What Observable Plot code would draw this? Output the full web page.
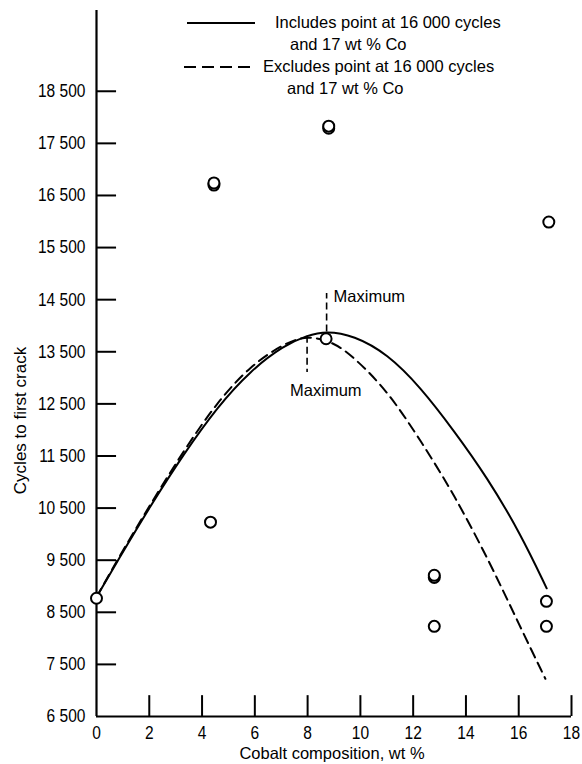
<!DOCTYPE html>
<html><head><meta charset="utf-8">
<script src="https://cdn.jsdelivr.net/npm/d3@7"></script>
<script src="https://cdn.jsdelivr.net/npm/@observablehq/plot@0.6"></script>
<style>
html,body{margin:0;padding:0;background:#fff;}
#wrap{position:relative;width:582px;height:764px;}
#legend{position:absolute;left:0;top:0;}
</style></head><body><div id="wrap"></div>
<script>
// Measured points (cobalt wt %, cycles to first crack)
const pointCobalt = [0, 4.32, 4.45, 4.45, 8.8, 8.8, 8.7, 12.8, 12.8, 12.8, 17.05, 17.05, 17.14];
const pointCycles = [8770, 10230, 16700, 16740, 17790, 17830, 13750, 9170, 9210, 8230, 8710, 8230, 15990];

// Curve including the point at 16 000 cycles and 17 wt % Co
const inclCobalt = [0, 0.78, 2.05, 3.31, 4.57, 5.84, 7.10, 7.98, 8.70, 9.75, 11.02, 12.28, 13.54, 14.80, 16.07, 17.06];
const inclCycles = [8790, 9470, 10550, 11542, 12437, 13141, 13621, 13813, 13900, 13813, 13462, 12820, 11989, 11093, 10007, 8960];

// Curve excluding that point
const exclCobalt = [0, 0.78, 2.05, 3.31, 4.57, 5.84, 7.10, 7.98, 8.99, 9.75, 11.02, 12.28, 13.54, 14.93, 15.94, 17.01];
const exclCycles = [8790, 9500, 10580, 11606, 12533, 13237, 13654, 13820, 13684, 13396, 12757, 11797, 10774, 9431, 8343, 7224];

// Maxima annotations
const maxCobalt = [8.72, 7.98];
const maxCycles = [13880, 13800];
const maxLeaderEnd = [14620, 13100];
const maxLabelCycles = [14560, 12757];
const maxLabel = ["Maximum", "Maximum"];

// Axes
const xTicks = [0, 2, 4, 6, 8, 10, 12, 14, 16, 18];
const yTicks = [6500, 7500, 8500, 9500, 10500, 11500, 12500, 13500, 14500, 15500, 16500, 17500, 18500];
const xDomain = [0, 18];
const yDomain = [6500, 20050];
const xTitle = "Cobalt composition, wt %";
const yTitle = "Cycles to first crack";

// Legend
const legendLine1 = ["Includes point at 16 000 cycles", "Excludes point at 16 000 cycles"];
const legendLine2 = ["and 17 wt % Co", "and 17 wt % Co"];
const legendDash = [null, "12,6"];

const points = pointCobalt.map((x, i) => ({x, y: pointCycles[i]}));
const incl = inclCobalt.map((x, i) => ({x, y: inclCycles[i]}));
const excl = exclCobalt.map((x, i) => ({x, y: exclCycles[i]}));
const maxima = maxCobalt.map((x, i) => ({x, y: maxCycles[i], end: maxLeaderEnd[i], ly: maxLabelCycles[i], label: maxLabel[i]}));

const font = "'Liberation Sans', Arial, sans-serif";
const fmt = d => d3.format(",")(d).replace(",", " ");

const chart = Plot.plot({
  width: 582,
  height: 764,
  marginLeft: 96,
  marginRight: 11,
  marginTop: 10,
  marginBottom: 48,
  style: {fontFamily: font, fontSize: "16.5px", background: "white", color: "black"},
  x: {domain: xDomain, axis: null},
  y: {domain: yDomain, axis: null},
  marks: [
    Plot.ruleX([xDomain[0]], {y1: yDomain[0], y2: yDomain[1], strokeWidth: 2.2}),
    Plot.ruleY([yDomain[0]], {x1: xDomain[0], x2: xDomain[1], strokeWidth: 2.2}),
    Plot.ruleY(yTicks.slice(1), {x1: 0, x2: 0.76, strokeWidth: 2}),
    Plot.ruleX(xTicks.slice(1), {y1: 6500, y2: 6900, strokeWidth: 2}),
    Plot.axisY({ticks: yTicks, tickSize: 0, tickPadding: 11, tickFormat: fmt, fontSize: 18.5, label: null}),
    Plot.axisX({ticks: xTicks, tickSize: 0, tickPadding: 9, tickFormat: d => String(d), fontSize: 18.5, label: null}),
    Plot.text([yTitle], {frameAnchor: "left", textAnchor: "middle", lineAnchor: "middle", rotate: -90, dx: -76, dy: 57, fontSize: 17}),
    Plot.text([xTitle], {frameAnchor: "bottom", textAnchor: "middle", lineAnchor: "middle", dy: 37, dx: -2, fontSize: 16.5}),
    Plot.line(incl, {x: "x", y: "y", curve: "basis", strokeWidth: 2}),
    Plot.line(excl, {x: "x", y: "y", curve: "basis", strokeWidth: 2, strokeDasharray: "10,6"}),
    Plot.ruleX(maxima, {x: "x", y1: "y", y2: "end", strokeWidth: 1.6, strokeDasharray: "7,4"}),
    Plot.text(maxima.slice(0, 1), {x: "x", y: "ly", text: "label", textAnchor: "start", dx: 7, fontSize: 16.5}),
    Plot.text(maxima.slice(1), {x: "x", y: "ly", text: "label", textAnchor: "start", dx: -17, fontSize: 16.5}),
    Plot.dot(points, {x: "x", y: "y", r: 5.5, fill: "white", stroke: "black", strokeWidth: 2})
  ]
});
document.getElementById("wrap").appendChild(chart);

// Condense the tick numerals like the original typeface
d3.select(chart).selectAll('g[aria-label="y-axis tick label"] text, g[aria-label="x-axis tick label"] text')
  .attr("transform", function () { return (this.getAttribute("transform") || "") + " scale(0.84,1)"; });

// Legend overlay
const lg = d3.select("#wrap").append("svg").attr("id", "legend")
  .attr("width", 582).attr("height", 110)
  .style("font-family", font).style("font-size", "16.5px");
const rowY = [23, 67];
const lineX1 = [187, 184];
const text1X = [275, 263];
const text2X = [290, 287];
legendLine1.forEach((t, i) => {
  const l = lg.append("line").attr("x1", lineX1[i]).attr("x2", 255).attr("y1", rowY[i]).attr("y2", rowY[i])
    .attr("stroke", "black").attr("stroke-width", 2);
  if (legendDash[i]) l.attr("stroke-dasharray", legendDash[i]);
  lg.append("text").attr("x", text1X[i]).attr("y", rowY[i] + 1).attr("dominant-baseline", "middle").text(t);
  lg.append("text").attr("x", text2X[i]).attr("y", rowY[i] + 23).attr("dominant-baseline", "middle").text(legendLine2[i]);
});
</script>
</body></html>
